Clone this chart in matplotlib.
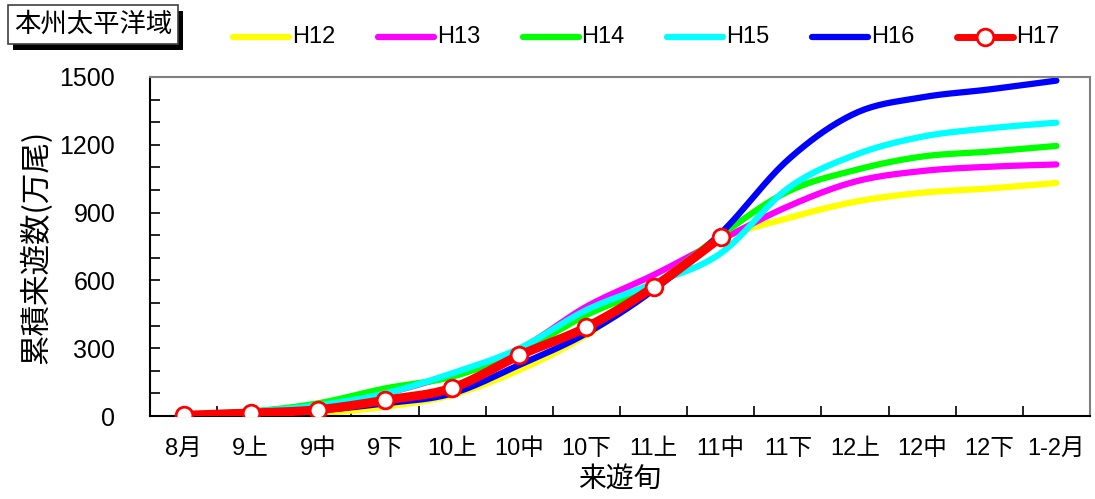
import numpy as np
import matplotlib.pyplot as plt
from matplotlib.ticker import MultipleLocator, FixedLocator
from matplotlib.patches import Rectangle
from matplotlib.lines import Line2D

plt.rcParams['font.family'] = ['Liberation Sans', 'Noto Sans CJK JP', 'DejaVu Sans']

# 来遊旬ごとの累積来遊数 (万尾)
periods = ['8月', '9上', '9中', '9下', '10上', '10中', '10下',
           '11上', '11中', '11下', '12上', '12中', '12下', '1-2月']
h12 = [2, 5, 12, 41, 93, 204, 358, 570, 780, 875, 948, 988, 1007, 1031]
h13 = [5, 18, 45, 100, 185, 295, 484, 624, 779, 927, 1037, 1084, 1103, 1113]
h14 = [6, 20, 56, 122, 174, 285, 447, 581, 800, 993, 1088, 1148, 1170, 1195]
h15 = [6, 20, 47, 100, 189, 299, 469, 587, 720, 1007, 1155, 1236, 1273, 1298]
h16 = [4, 15, 25, 56, 100, 226, 366, 558, 808, 1133, 1339, 1410, 1445, 1484]
h17 = [3, 13, 28, 70, 124, 268, 393, 570, 790]

series = [
    ('H12', h12, '#ffff00'),
    ('H13', h13, '#ff00ff'),
    ('H14', h14, '#00ff00'),
    ('H15', h15, '#00ffff'),
    ('H16', h16, '#0000ff'),
]


def smooth(x, y, n=20):
    # Catmull-Rom curve through the points, like a spreadsheet "smoothed line"
    x = np.asarray(x, float)
    y = np.asarray(y, float)
    px = np.concatenate([[x[0]], x, [x[-1]]])
    py = np.concatenate([[y[0]], y, [y[-1]]])
    xs, ys = [], []
    t = np.linspace(0, 1, n, endpoint=False)
    for i in range(1, len(px) - 2):
        for p, out in ((px, xs), (py, ys)):
            p0, p1, p2, p3 = p[i - 1], p[i], p[i + 1], p[i + 2]
            out.extend(0.5 * (2 * p1 + (-p0 + p2) * t
                              + (2 * p0 - 5 * p1 + 4 * p2 - p3) * t ** 2
                              + (-p0 + 3 * p1 - 3 * p2 + p3) * t ** 3))
    xs.append(x[-1])
    ys.append(y[-1])
    return np.array(xs), np.array(ys)


fig = plt.figure(figsize=(10.95, 4.99), dpi=100)
ax = fig.add_axes([0.137, 0.1663, 0.8584, 0.6794])

x = np.arange(len(periods))
for name, vals, col in series:
    sx, sy = smooth(x, vals)
    ax.plot(sx, sy, color=col, lw=4.5, solid_capstyle='round')

x17 = x[:len(h17)]
sx, sy = smooth(x17, h17)
ax.plot(sx, sy, color='#ff0000', lw=6.5, solid_capstyle='round', zorder=5)
ax.plot(x17, h17, ls='none', marker='o', ms=12, mfc='white', mec='#ff0000', mew=2, zorder=6)

ax.set_xlim(-0.5, len(periods) - 0.5)
ax.set_ylim(0, 1500)
ax.set_xticks(x)
ax.set_xticklabels(periods, fontsize=17)
ax.xaxis.set_minor_locator(FixedLocator(np.arange(0.5, len(periods) - 0.5, 1)))
ax.tick_params(axis='x', which='major', length=0, pad=16)
ax.tick_params(axis='x', which='minor', direction='in', length=7, width=1.2)
ax.yaxis.set_major_locator(MultipleLocator(300))
ax.yaxis.set_minor_locator(MultipleLocator(100))
ax.tick_params(axis='y', which='both', direction='in', length=7, width=1.2,
               labelsize=18, pad=25)

for side in ('left', 'bottom'):
    ax.spines[side].set_linewidth(1.5)
for side in ('top', 'right'):
    ax.spines[side].set_color('#808080')
    ax.spines[side].set_linewidth(1.5)

ax.set_xlabel('来遊旬', fontsize=20, labelpad=3, family=['Noto Sans CJK JP'])
ax.set_ylabel('累積来遊数(万尾)', fontsize=22, labelpad=5, family=['Noto Sans CJK JP'])

# legend row across the top, one entry every ~145 px
W, H = 1095, 499
leg_y = 1 - 37 / H
for i, (name, vals, col) in enumerate(series + [('H17', h17, '#ff0000')]):
    x0 = 233 + i * 144.8
    x1 = x0 + 56
    if name == 'H17':
        fig.add_artist(Line2D([x0 / W, x1 / W], [leg_y, leg_y], color=col, lw=5,
                              solid_capstyle='round'))
        fig.add_artist(Line2D([(x0 + x1) / 2 / W], [leg_y], ls='none', marker='o', ms=12,
                              mfc='white', mec=col, mew=2))
    else:
        fig.add_artist(Line2D([x0 / W, x1 / W], [leg_y, leg_y], color=col, lw=4.5,
                              solid_capstyle='round'))
    fig.text((x1 + 3) / W, leg_y, name, fontsize=17, ha='left', va='center')

# boxed region name with drop shadow
fig.patches.append(Rectangle((0.0119, 0.8998), 0.155, 0.078, transform=fig.transFigure,
                             facecolor='black', edgecolor='none'))
fig.patches.append(Rectangle((0.0073, 0.9118), 0.155, 0.078, transform=fig.transFigure,
                             facecolor='white', edgecolor='#404040', lw=1.2))
fig.text(0.0848, 0.951, '本州太平洋域', fontsize=19, ha='center', va='center',
         family=['Noto Sans CJK JP'])

fig.savefig('out.png', dpi=100)
